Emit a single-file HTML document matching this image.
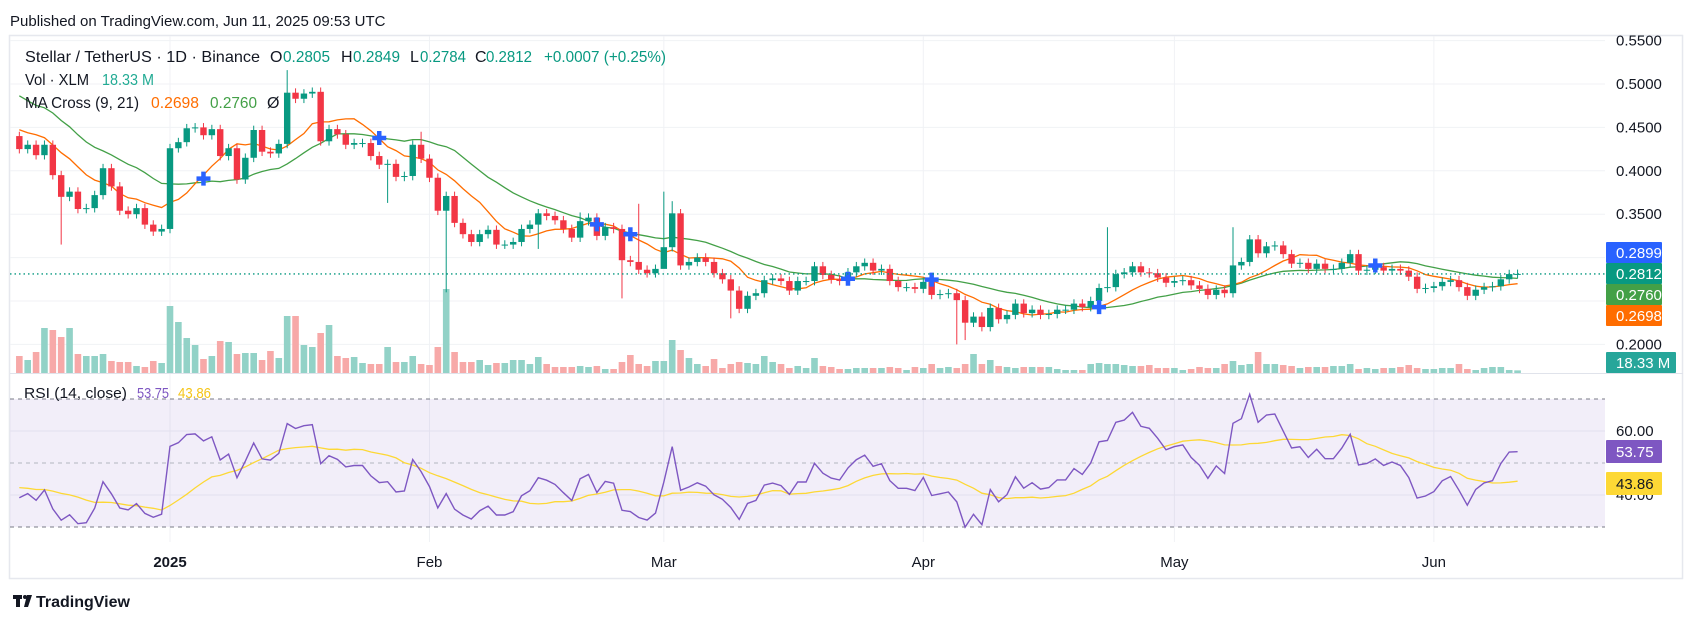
<!DOCTYPE html>
<html><head><meta charset="utf-8"><title>XLM/USDT chart</title>
<style>
html,body{margin:0;padding:0;background:#fff;}
svg{display:block;font-family:"Liberation Sans",Arial,sans-serif;}
</style></head>
<body>
<svg id="chart" width="1696" height="627" viewBox="0 0 1696 627" xmlns="http://www.w3.org/2000/svg">
  <rect x="0" y="0" width="1696" height="627" fill="#ffffff"/>
  <text x="10" y="26" font-size="15" fill="#131722">Published on TradingView.com, Jun 11, 2025 09:53 UTC</text>
  <rect x="9.5" y="35.5" width="1673" height="543" fill="none" stroke="#e6e8ee" stroke-width="1.5"/>
  <defs><clipPath id="plotclip"><rect x="10" y="36" width="1595" height="506"/></clipPath></defs>
  <g id="grid"></g>
  <rect x="10" y="399" width="1595" height="128" fill="rgba(126,87,194,0.1)"/>
  <g id="rsiLines"></g>
  <line x1="10" y1="373.5" x2="1683" y2="373.5" stroke="#e0e3eb" stroke-width="1"/>
  <g id="plot" clip-path="url(#plotclip)"></g>
  <g id="axis"></g>
  <g id="timeaxis"></g>
  <g id="labels"></g>

  <g font-size="16">
    <text x="25" y="62" fill="#131722" textLength="235" lengthAdjust="spacingAndGlyphs">Stellar / TetherUS · 1D · Binance</text>
    <text x="270" y="62" fill="#131722">O</text>
    <text x="283" y="62" fill="#089981" textLength="47" lengthAdjust="spacingAndGlyphs">0.2805</text>
    <text x="341" y="62" fill="#131722">H</text>
    <text x="353" y="62" fill="#089981" textLength="47" lengthAdjust="spacingAndGlyphs">0.2849</text>
    <text x="410" y="62" fill="#131722">L</text>
    <text x="420" y="62" fill="#089981" textLength="46" lengthAdjust="spacingAndGlyphs">0.2784</text>
    <text x="475" y="62" fill="#131722">C</text>
    <text x="486" y="62" fill="#089981" textLength="46" lengthAdjust="spacingAndGlyphs">0.2812</text>
    <text x="544" y="62" fill="#089981" textLength="122" lengthAdjust="spacingAndGlyphs">+0.0007 (+0.25%)</text>
    <text x="25" y="85" fill="#131722" textLength="64" lengthAdjust="spacingAndGlyphs">Vol · XLM</text>
    <text x="102" y="85" fill="#22ab94" textLength="52" lengthAdjust="spacingAndGlyphs">18.33 M</text>
    <text x="25" y="108" fill="#131722" textLength="114" lengthAdjust="spacingAndGlyphs">MA Cross (9, 21)</text>
    <text x="151" y="108" fill="#ff6d00" textLength="48" lengthAdjust="spacingAndGlyphs">0.2698</text>
    <text x="210" y="108" fill="#43a047" textLength="47" lengthAdjust="spacingAndGlyphs">0.2760</text>
    <text x="267" y="108" fill="#131722">Ø</text>
    <text x="24" y="398" fill="#131722" font-size="15" textLength="103" lengthAdjust="spacingAndGlyphs">RSI (14, close)</text>
    <text x="137" y="398" fill="#7e57c2" font-size="15" textLength="32" lengthAdjust="spacingAndGlyphs">53.75</text>
    <text x="178" y="398" fill="#f5c518" font-size="15" textLength="33" lengthAdjust="spacingAndGlyphs">43.86</text>
  </g>

  <g>
    <rect x="13" y="595" width="9" height="4" fill="#131722"/>
    <rect x="16" y="595" width="4" height="12" fill="#131722"/>
    <circle cx="25" cy="597" r="2" fill="#131722"/>
    <polygon points="27,595 32,595 28,607 24,607" fill="#131722"/>
    <text x="36" y="607" font-size="16" font-weight="bold" fill="#131722">TradingView</text>
  </g>
</svg>
<script>
// ---- data ----
const warmupCloses = [0.50,0.55,0.53,0.49,0.52,0.55,0.53,0.55,0.53,0.50,0.49,0.48,0.47,0.46,0.44,0.46,0.47,0.45,0.44,0.44,0.44];
const closes = [
 0.425,0.43,0.418,0.43,0.395,0.37,0.376,0.356,0.357,0.372,0.403,0.382,0.354,0.35,0.357,0.338,0.33,0.333,
 0.426,0.433,0.449,0.45,0.441,0.448,0.417,0.426,0.39,0.415,0.447,0.422,0.42,0.431,0.49,0.483,0.489,0.491,0.434,0.448,0.442,0.43,0.432,0.432,0.417,0.407,0.408,0.393,0.394,0.43,0.414,
 0.392,0.354,0.371,0.34,0.327,0.318,0.327,0.332,0.315,0.315,0.318,0.333,0.338,0.351,0.348,0.343,0.333,0.323,0.342,0.346,0.325,0.335,0.333,0.297,0.295,0.286,0.282,0.287,
 0.312,0.351,0.291,0.295,0.3,0.295,0.282,0.275,0.262,0.241,0.256,0.259,0.274,0.276,0.273,0.262,0.273,0.273,0.29,0.28,0.275,0.273,0.283,0.29,0.294,0.285,0.287,0.273,0.266,0.266,0.264,
 0.272,0.257,0.258,0.259,0.251,0.225,0.232,0.22,0.242,0.229,0.234,0.247,0.236,0.24,0.234,0.235,0.24,0.24,0.247,0.243,0.25,0.265,0.266,0.281,0.283,0.29,0.283,0.282,0.277,0.271,
 0.273,0.274,0.268,0.264,0.257,0.263,0.259,0.291,0.295,0.321,0.305,0.313,0.314,0.304,0.293,0.294,0.287,0.293,0.287,0.287,0.294,0.304,0.285,0.286,0.289,0.285,0.287,0.285,0.278,0.264,0.265,
 0.267,0.272,0.274,0.266,0.256,0.263,0.266,0.267,0.275,0.281,0.2812
];
const firstOpen = 0.44;
const wickHighs = {32:0.516, 48:0.445, 67:0.352, 74:0.362, 77:0.376, 78:0.365, 130:0.335, 145:0.335};
const wickLows = {5:0.315, 44:0.363, 51:0.26, 62:0.31, 77:0.305, 85:0.23, 112:0.2, 113:0.205, 72:0.253};
const volumes = [
 119,91,147,315,301,252,315,133,119,119,133,84,77,77,49,42,84,70,
 469,357,245,196,98,119,224,217,133,140,140,91,154,105,399,399,196,182,280,336,119,105,112,70,63,63,182,77,77,119,63,
 56,182,588,147,77,77,91,56,70,70,91,91,63,112,63,42,42,42,49,42,49,28,28,77,126,63,49,84,
 84,231,161,105,63,49,98,35,63,77,70,63,119,77,63,35,49,35,105,49,42,28,28,35,35,35,35,42,35,21,42,
 35,63,35,42,35,63,133,63,91,49,42,35,42,42,42,42,28,21,21,21,63,70,63,63,56,49,49,56,35,35,
 35,21,28,42,35,35,63,84,56,63,147,63,63,56,49,35,42,42,42,49,49,63,28,35,28,35,35,42,56,35,28,
 28,35,35,63,28,21,35,42,42,21,18.33
];
const priceTicks = [0.55,0.50,0.45,0.40,0.35,0.30,0.25,0.20];
const priceTickLabels = ["0.5500","0.5000","0.4500","0.4000","0.3500","0.3000","0.2500","0.2000"];
const rsiTicks = [60,40];
const rsiTickLabels = ["60.00","40.00"];
const monthIdx = [18,49,77,108,138,169];
const monthLabels = ["2025","Feb","Mar","Apr","May","Jun"];
const lastValues = ["0.2899","0.2812","0.2760","0.2698","18.33 M"];
const rsiLastValues = ["53.75","43.86"];

// ---- scales ----
const X = i => 170 + (i - 18) * 8.37;
const YP = p => 84 + (0.5 - p) * 868;
const YV = v => 373 - v / 7;
const YR = r => 463 - (r - 50) * 3.2;
const NS = "http://www.w3.org/2000/svg";
function mk(tag, attrs, parent){const e=document.createElementNS(NS,tag);for(const k in attrs)e.setAttribute(k,attrs[k]);parent.appendChild(e);return e;}

const grid = document.getElementById('grid');
const plot = document.getElementById('plot');
const axis = document.getElementById('axis');
const taxis = document.getElementById('timeaxis');
const labels = document.getElementById('labels');

priceTicks.forEach((p,k)=>{
  const l=mk('line',{x1:10,x2:1605,y1:YP(p),y2:YP(p),stroke:'#f0f2f5','stroke-width':1},grid);
  
  
  const t=mk('text',{x:1616,y:YP(p)+5,'font-size':15,fill:'#131722'},axis);
  t.textContent=priceTickLabels[k];
  
  
});
monthIdx.forEach((i,k)=>{
  const l=mk('line',{x1:X(i),x2:X(i),y1:36,y2:542,stroke:'#f0f2f5','stroke-width':1},grid);
  
  
  const t=mk('text',{x:X(i),y:567,'font-size':15,fill:'#131722','text-anchor':'middle','font-weight':k===0?'bold':'normal'},taxis);
  t.textContent=monthLabels[k];
  
  
});
const rl=document.getElementById('rsiLines');
rsiTicks.forEach((r,k)=>{
  const l=mk('line',{x1:10,x2:1605,y1:YR(r),y2:YR(r),stroke:'#e3e0ee','stroke-width':1},rl);
  
  
  const t=mk('text',{x:1616,y:YR(r)+5,'font-size':15,fill:'#131722'},axis);
  t.textContent=rsiTickLabels[k];
  
  
});
[[70,'#787b86'],[50,'#b2b5be'],[30,'#787b86']].forEach(([r,c])=>{
  const l=mk('line',{x1:10,x2:1605,y1:YR(r),y2:YR(r),stroke:c,'stroke-width':1,'stroke-dasharray':'4,4'},rl);
  
  
});

const n = closes.length;
const opens = closes.map((c,i)=> i===0 ? firstOpen : closes[i-1]);

const volG = mk('g',{},plot);


volumes.forEach((v,i)=>{
  const up = closes[i] >= opens[i];
  const b = mk('rect',{x:X(i)-3.3,y:YV(v),width:6.6,height:373-YV(v),fill:up?'#92d2c7':'#f7a9a8'},volG);
  
  
});

const all = warmupCloses.concat(closes);
const W = warmupCloses.length;
function sma(arr,len,i){let s=0;for(let k=i-len+1;k<=i;k++)s+=arr[k];return s/len;}
const ma9 = closes.map((c,i)=>sma(all,9,i+W));
const ma21 = closes.map((c,i)=>sma(all,21,i+W));
function path(vals,yf){return vals.map((v,i)=>(i===0?'M':'L')+X(i).toFixed(1)+','+yf(v).toFixed(1)).join(' ');}
const m21 = mk('path',{d:path(ma21,YP),fill:'none',stroke:'#43a047','stroke-width':1.3},plot);


const m9 = mk('path',{d:path(ma9,YP),fill:'none',stroke:'#ff6d00','stroke-width':1.3},plot);



const cg = mk('g',{},plot);


closes.forEach((c,i)=>{
  const o=opens[i]; const up=c>=o; const col=up?'#089981':'#f23645';
  const hi = wickHighs[i]!==undefined ? wickHighs[i] : Math.max(o,c)+0.005;
  const lo = wickLows[i]!==undefined ? wickLows[i] : Math.min(o,c)-0.005;
  const w = mk('line',{x1:X(i),x2:X(i),y1:YP(hi),y2:YP(lo),stroke:col,'stroke-width':1},cg);
  
  
  const top=YP(Math.max(o,c)), bot=YP(Math.min(o,c));
  const b = mk('rect',{x:X(i)-3.2,y:top,width:6.4,height:Math.max(1,bot-top),fill:col},cg);
  
  
});

for(let i=1;i<n;i++){
  const a=ma9[i-1]-ma21[i-1], b=ma9[i]-ma21[i];
  if((a<0&&b>=0)||(a>0&&b<=0)){
    const cx=X(i), cy=YP((ma9[i]+ma21[i])/2);
    const p=mk('path',{d:`M${cx-7},${cy} H${cx+7} M${cx},${cy-7} V${cy+7}`,stroke:'#2962ff','stroke-width':4.5,fill:'none'},plot);
    
    
  }
}

const lp = mk('line',{x1:10,x2:1605,y1:YP(closes[n-1]),y2:YP(closes[n-1]),stroke:'#089981','stroke-width':1.3,'stroke-dasharray':'1.5,3'},plot);



const gains=[],losses=[];
for(let k=1;k<all.length;k++){const d=all[k]-all[k-1];gains.push(Math.max(d,0));losses.push(Math.max(-d,0));}
let ag=0,al=0;for(let k=0;k<14;k++){ag+=gains[k];al+=losses[k];}ag/=14;al/=14;
const rsiAll=new Array(all.length).fill(null);
rsiAll[14]=100-100/(1+ag/(al||1e-9));
for(let k=14;k<gains.length;k++){ag=(ag*13+gains[k])/14;al=(al*13+losses[k])/14;rsiAll[k+1]=100-100/(1+ag/(al||1e-9));}
const rsi = closes.map((c,i)=>rsiAll[i+W]);
const rsiMa = closes.map((c,i)=>{let s=0,cnt=0;for(let k=i+W-13;k<=i+W;k++){if(rsiAll[k]!==null){s+=rsiAll[k];cnt++;}}return s/cnt;});
const rm = mk('path',{d:path(rsiMa,YR),fill:'none',stroke:'#fdd835','stroke-width':1.3},plot);


const rp = mk('path',{d:path(rsi,YR),fill:'none',stroke:'#7e57c2','stroke-width':1.4},plot);



const boxes=[[242,56,'#2962ff','#fff'],[263,56,'#089981','#fff'],[284,56,'#43a047','#fff'],[305,56,'#ff6d00','#fff'],[352,70,'#26a69a','#fff']];
boxes.forEach(([y,w,bg,fg],k)=>{
  const r=mk('rect',{x:1606,y:y,width:w,height:21,fill:bg,rx:1},labels);
  
  
  const t=mk('text',{x:1616,y:y+16,'font-size':15,fill:fg},labels);
  t.textContent=lastValues[k];
});
[[440,'#7e57c2','#fff'],[472,'#fdd835','#131722']].forEach(([y,bg,fg],k)=>{
  const r=mk('rect',{x:1606,y:y,width:56,height:23,fill:bg,rx:1},labels);
  
  
  const t=mk('text',{x:1616,y:y+17,'font-size':15,fill:fg},labels);
  t.textContent=rsiLastValues[k];
});
</script>
</body></html>
